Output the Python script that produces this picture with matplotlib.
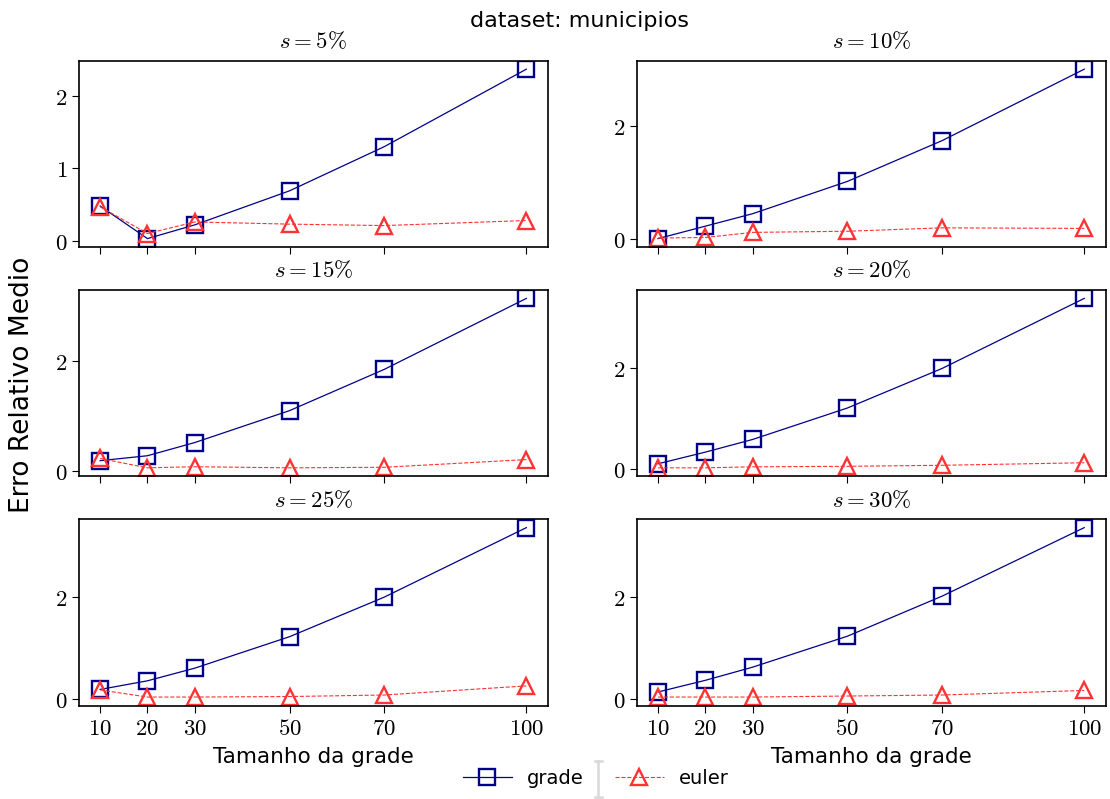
import numpy as np
import matplotlib
matplotlib.use("agg")
import matplotlib.pyplot as plt
from matplotlib.lines import Line2D
from matplotlib.ticker import FixedLocator, FuncFormatter

plt.rcParams['mathtext.fontset'] = 'cm'
plt.rcParams['font.family'] = 'DejaVu Sans'

# grid sizes
grid_sizes = [10, 20, 30, 50, 70, 100]
samples = ['5', '10', '15', '20', '25', '30']

# mean relative error per sample rate
grade_5 = [0.48, 0.03, 0.22, 0.69, 1.30, 2.37]
euler_5 = [0.47, 0.10, 0.26, 0.23, 0.21, 0.28]
grade_10 = [0.01, 0.23, 0.45, 1.02, 1.74, 3.00]
euler_10 = [0.02, 0.03, 0.12, 0.14, 0.20, 0.19]
grade_15 = [0.18, 0.27, 0.51, 1.09, 1.84, 3.13]
euler_15 = [0.22, 0.05, 0.07, 0.05, 0.06, 0.20]
grade_20 = [0.11, 0.34, 0.59, 1.21, 1.99, 3.37]
euler_20 = [0.03, 0.03, 0.05, 0.06, 0.08, 0.13]
grade_25 = [0.18, 0.35, 0.60, 1.22, 2.00, 3.37]
euler_25 = [0.17, 0.03, 0.03, 0.04, 0.07, 0.25]
grade_30 = [0.13, 0.36, 0.62, 1.23, 2.02, 3.37]
euler_30 = [0.03, 0.03, 0.03, 0.05, 0.07, 0.16]

grade_all = [grade_5, grade_10, grade_15, grade_20, grade_25, grade_30]
euler_all = [euler_5, euler_10, euler_15, euler_20, euler_25, euler_30]

fig, axes = plt.subplots(3, 2, figsize=(11.1, 7.99), dpi=100, sharex=True)
fig.subplots_adjust(left=0.071, right=0.996, top=0.924, bottom=0.117,
                    wspace=0.19, hspace=0.23)

math_fmt = FuncFormatter(lambda v, p: f'${v:g}$')

for i, ax in enumerate(axes.flat):
    ax.plot(grid_sizes, grade_all[i], color='#00008B', lw=0.9, ls='-',
            marker='s', markersize=11, markerfacecolor='none',
            markeredgewidth=1.7, label='grade')
    ax.plot(grid_sizes, euler_all[i], color='#FF3333', lw=0.8, ls='--',
            marker='^', markersize=11, markerfacecolor='none',
            markeredgewidth=1.7, label='euler')
    ax.set_title(r'$s = %s\%%$' % samples[i], fontsize=16.5, pad=9)
    ax.xaxis.set_major_locator(FixedLocator(grid_sizes))
    ax.xaxis.set_major_formatter(math_fmt)
    ax.yaxis.set_major_formatter(math_fmt)
    ax.tick_params(labelsize=16.5, length=5, pad=3)
    for sp in ax.spines.values():
        sp.set_linewidth(1.2)

axes[0, 0].set_yticks([0, 1, 2])
for ax in axes.flat[1:]:
    ax.set_yticks([0, 2])

for ax in axes[2]:
    ax.set_xlabel('Tamanho da grade', fontsize=15.5, labelpad=5)

fig.text(0.02, 0.518, 'Erro Relativo Medio', rotation=90, fontsize=19,
         ha='center', va='center')
fig.suptitle('dataset: municipios', fontsize=16, x=0.522, y=0.986)

handles, labels = axes[0, 0].get_legend_handles_labels()
fig.legend(handles, labels, loc='lower center', ncol=2, frameon=False,
           fontsize=14, bbox_to_anchor=(0.537, -0.008), columnspacing=1.6,
           handlelength=2.5)
# separator between legend entries
sep_x = 0.539
sep_y0, sep_y1 = 0.002, 0.048
sep_kw = dict(color='#d8d8d8', lw=1.8, transform=fig.transFigure)
fig.add_artist(Line2D([sep_x, sep_x], [sep_y0, sep_y1], **sep_kw))
fig.add_artist(Line2D([sep_x - 0.003, sep_x + 0.003], [sep_y1, sep_y1], **sep_kw))
fig.add_artist(Line2D([sep_x - 0.003, sep_x + 0.003], [sep_y0, sep_y0], **sep_kw))

fig.savefig('out.png', dpi=100)
